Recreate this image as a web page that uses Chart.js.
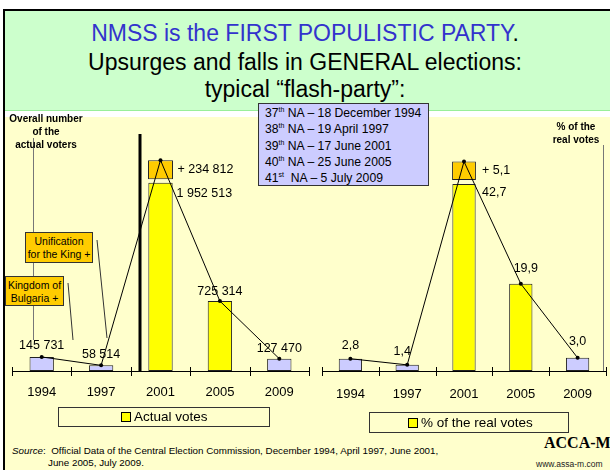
<!DOCTYPE html>
<html>
<head>
<meta charset="utf-8">
<script src="https://cdn.jsdelivr.net/npm/chart.js@4"></script>
<style>
  html { overflow: hidden; }
  body { margin: 0; width: 610px; height: 470px; overflow: hidden; position: relative; background: #fff;
         font-family: Arial, "Liberation Sans", sans-serif; color: #000; }
  .abs { position: absolute; }
  #frame { left: 3px; top: 9px; width: 605px; height: 459px; border-style: solid; border-color: #000; border-width: 2px 0 0 2px; background: #ffffcc; }
  #head { left: 5px; top: 11px; width: 605px; height: 99px; background: #ccffcc; border-bottom: 1px solid #99ee99; }
  #strip { left: 5px; top: 111px; width: 605px; height: 6px; background: #fff; }
  .hline { left: 0; width: 610px; text-align: center; white-space: nowrap; font-size: 23px; line-height: 26px; }
  #dates { left: 258px; top: 103px; width: 171px; height: 83px; background: #ccccff; border: 1px solid #333;
           font-size: 12.2px; line-height: 16.3px; padding: 1px 0 0 6px; box-sizing: border-box; }
  #dates sup { font-size: 7px; line-height: 0; vertical-align: 5px; }
  .note { background: #ffcc00; border: 1px solid #333; font-size: 10.5px; line-height: 13px; text-align: center; box-sizing: border-box; }
  .ytitle { font-size: 10px; font-weight: bold; line-height: 12.8px; text-align: center; white-space: nowrap; }
  .legend { border: 1px solid #333; font-size: 13.5px; line-height: 18px; box-sizing: border-box; white-space: nowrap; }
  .legend i { display: inline-block; width: 10px; height: 10px; background: #ffff00; border: 1px solid #000; box-sizing: border-box; vertical-align: -1px; margin-right: 3px; }
  canvas { position: absolute; top: 0; }
</style>
</head>
<body>
<div id="frame" class="abs"></div>
<div id="head" class="abs"></div>
<div id="strip" class="abs"></div>
<div class="abs hline" style="top:20px;color:#3333cc;">NMSS is the FIRST POPULISTIC PARTY<span style="color:#000">.</span></div>
<div class="abs hline" style="top:49px;">Upsurges and falls in GENERAL elections:</div>
<div class="abs hline" style="top:76px;">typical “flash-party”:</div>

<canvas id="votesChart" style="left:0;" width="320" height="420"></canvas>
<canvas id="percentChart" style="left:310px;" width="300" height="420"></canvas>

<div id="dates" class="abs">
  37<sup>th</sup> NA – 18 December 1994<br>
  38<sup>th</sup> NA – 19 April 1997<br>
  39<sup>th</sup> NA – 17 June 2001<br>
  40<sup>th</sup> NA – 25 June 2005<br>
  41<sup>st</sup>&nbsp; NA – 5 July 2009
</div>

<div class="abs ytitle" style="left:2px;top:113px;width:88px;">Overall number<br>of the<br>actual voters</div>
<div class="abs ytitle" style="left:540px;top:121px;width:72px;">% of the<br>real votes</div>

<div class="abs note" style="left:25px;top:232px;width:68px;height:31px;padding-top:2px;">Unification<br>for the King +</div>
<div class="abs note" style="left:5px;top:276px;width:59px;height:30px;padding-top:2px;">Kingdom of<br>Bulgaria +</div>

<div class="abs legend" style="left:58px;top:407px;width:212px;height:20px;padding-left:62px;"><i></i>Actual votes</div>
<div class="abs legend" style="left:369px;top:412px;width:200px;height:21px;padding-left:38px;padding-top:1px;"><i></i>% of the real votes</div>

<div class="abs" style="left:12px;top:445px;font-size:9.8px;line-height:11.5px;white-space:nowrap;">
  <i>Source</i>:&nbsp; Official Data of the Central Election Commission, December 1994, April 1997, June 2001,<br>
  <span style="padding-left:36px;">June 2005, July 2009.</span>
</div>
<div class="abs" style="left:544px;top:434px;font-family:'Liberation Serif','Times New Roman',serif;font-weight:bold;font-size:16px;white-space:nowrap;">ACCA-M</div>
<div class="abs" style="left:536px;top:459px;font-size:8.5px;white-space:nowrap;color:#222;">www.assa-m.com</div>

<script>
// data
const years = ["1994", "1997", "2001", "2005", "2009"];

const actualVotes = [145731, 58514, 1952513, 725314, 127470];
const votesGain = [null, null, [1990000, 2187325], null, null];
const votesTrend = [145731, 58514, 2187325, 725314, 127470];
const votesLabels = ["145 731", "58 514", "1 952 513", "725 314", "127 470"];
const votesGainLabel = "+ 234 812";

const realVotesPct = [2.8, 1.4, 42.7, 19.9, 3.0];
const pctGain = [null, null, [43.6, 47.8], null, null];
const pctTrend = [2.8, 1.4, 47.8, 19.9, 3.0];
const pctLabels = ["2,8", "1,4", "42,7", "19,9", "3,0"];
const pctGainLabel = "+ 5,1";

const barColors = ["#ccccff", "#ccccff", "#ffff00", "#ffff00", "#ccccff"];
const FONT = 'Arial, "Liberation Sans", sans-serif';

// labels, axis ticks and the extra lines of the slide
const slidePlugin = {
    id: "slide",
    afterDraw(chart, args, opts) {
        const ctx = chart.ctx;
        const xs = chart.scales.x;
        const base = chart.chartArea.bottom;
        const bars = chart.getDatasetMeta(0).data;
        const gain = chart.getDatasetMeta(1).data;
        const pts = chart.getDatasetMeta(2).data;
        ctx.save();

        // tick marks crossing the axis
        ctx.strokeStyle = "#000";
        ctx.lineWidth = 1;
        for (let i = 0; i <= years.length; i++) {
            const x = Math.round(xs.getPixelForValue(i - 0.5)) + 0.5;
            ctx.beginPath();
            ctx.moveTo(x, base - 4);
            ctx.lineTo(x, base + 5);
            ctx.stroke();
        }

        // extra lines (axis lines, separators, call-outs)
        (opts.lines || []).forEach(function (l) {
            ctx.strokeStyle = l[4];
            ctx.lineWidth = l[5];
            ctx.beginPath();
            ctx.moveTo(l[0], l[1]);
            ctx.lineTo(l[2], l[3]);
            ctx.stroke();
        });

        // value labels
        ctx.fillStyle = "#000";
        ctx.font = "12.5px " + FONT;
        ctx.textBaseline = "middle";
        opts.labels.forEach(function (txt, i) {
            const o = opts.offsets[i];
            const el = o[3] === "bar" ? bars[i] : pts[i];
            ctx.textAlign = o[2];
            ctx.fillText(txt, el.x + o[0], el.y + o[1]);
        });
        const g = gain[2];
        ctx.textAlign = "left";
        ctx.fillText(opts.gainLabel, g.x + opts.gainOffset[0], g.y + opts.gainOffset[1]);
        ctx.restore();
    }
};

function makeChart(id, values, gainValues, trend, yMax, labelPad, pad, plug) {
    return new Chart(document.getElementById(id), {
        type: "bar",
        data: {
            labels: years,
            datasets: [
                {
                    data: values,
                    backgroundColor: barColors,
                    borderColor: "#222",
                    borderWidth: 1,
                    borderSkipped: false,
                    grouped: false,
                    barPercentage: 0.41,
                    categoryPercentage: 1,
                    order: 2
                },
                {
                    data: gainValues,
                    backgroundColor: "#ffcc00",
                    borderColor: "#222",
                    borderWidth: 1,
                    borderSkipped: false,
                    grouped: false,
                    barPercentage: 0.42,
                    categoryPercentage: 1,
                    order: 2
                },
                {
                    type: "line",
                    data: trend,
                    borderColor: "#000",
                    borderWidth: 1,
                    pointRadius: 2,
                    pointBackgroundColor: "#000",
                    pointBorderWidth: 0,
                    tension: 0,
                    order: 0
                }
            ]
        },
        options: {
            responsive: false,
            animation: false,
            layout: { padding: pad },
            scales: {
                x: {
                    offset: true,
                    grid: { display: false, drawTicks: false, offset: true },
                    border: { display: true, color: "#000", width: 1 },
                    ticks: { color: "#000", font: { size: 13, family: FONT }, padding: labelPad, maxRotation: 0 },
                    afterFit: function (s) { s.height = 40; }
                },
                y: { display: false, min: 0, max: yMax }
            },
            plugins: {
                legend: { display: false },
                tooltip: { enabled: false },
                slide: plug
            }
        },
        plugins: [slidePlugin]
    });
}

makeChart("votesChart", actualVotes, votesGain, votesTrend, 2500000, 14,
    { left: 12, right: 11, top: 130, bottom: 9 },
    {
        labels: votesLabels,
        offsets: [[0, -11, "center"], [0, -11, "center"], [16, 11, "left", "bar"], [0, -10, "center"], [0, -10, "center"]],
        gainLabel: votesGainLabel,
        gainOffset: [17, 9],
        lines: [
            [33.5, 138, 33.5, 340, "#777", 1],
            [140, 134, 140, 372, "#000", 3],
            [97, 240, 107, 338, "#333", 1],
            [68, 283, 73, 340, "#333", 1]
        ]
    });

makeChart("percentChart", realVotesPct, pctGain, pctTrend, 55, 16,
    { left: 12, right: -1, top: 130, bottom: 9 },
    {
        labels: pctLabels,
        offsets: [[0, -13, "center"], [-5, -13, "center"], [18, 9, "left", "bar"], [5, -15, "center"], [0, -16, "center"]],
        gainLabel: pctGainLabel,
        gainOffset: [18, 9],
        lines: [
            [293.5, 145, 293.5, 371, "#777", 1]
        ]
    });
</script>
</body>
</html>
